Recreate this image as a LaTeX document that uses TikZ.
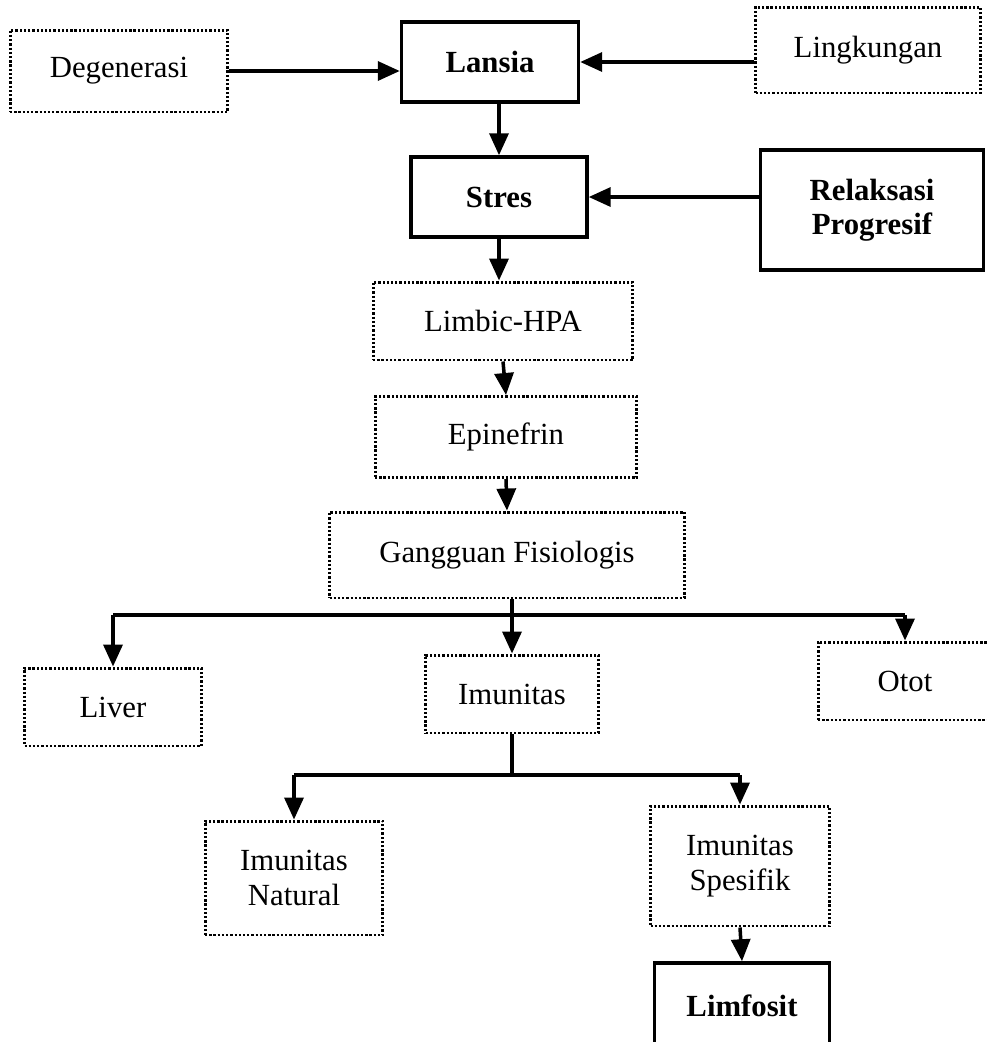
\documentclass[tikz,border=0pt]{standalone}
\usepackage{fontspec}
\setmainfont{Liberation Serif}
\usetikzlibrary{arrows.meta}

\begin{document}
\begin{tikzpicture}[x=0.02cm, y=-0.02cm, box/.style={rectangle, draw, line width=2pt, inner sep=0pt, align=center, font=\fontsize{17.5}{19.5}\selectfont\bfseries}, dotbox/.style={rectangle, draw, line width=1.7pt, dash pattern=on 1.3pt off 1.1pt, inner sep=0pt, align=center, font=\fontsize{17.5}{19.5}\selectfont}, >={Triangle[length=0.44cm,width=0.38cm]}, every path/.style={line width=2pt}]

                \useasboundingbox (0,0) rectangle (987,1042);

                \node[dotbox, minimum width=4.36cm, minimum height=1.64cm] (deg) at (119,71) {Degenerasi};
                \node[box, minimum width=3.54cm, minimum height=1.60cm] (lansia) at (490,62) {Lansia};
                \node[dotbox, minimum width=4.50cm, minimum height=1.72cm] (ling) at (868,50) {Lingkungan};
                \node[box, minimum width=3.52cm, minimum height=1.60cm] (stres) at (499,197) {Stres};
                \node[box, minimum width=4.46cm, minimum height=2.40cm] (relak) at (872,210) {Relaksasi\\Progresif};
                \node[dotbox, minimum width=5.20cm, minimum height=1.56cm] (limbic) at (503,321) {Limbic-HPA};
                \node[dotbox, minimum width=5.24cm, minimum height=1.62cm] (epi) at (506,437) {Epinefrin};
                \node[dotbox, minimum width=7.10cm, minimum height=1.72cm] (gang) at (507,555) {Gangguan Fisiologis};

                \node[dotbox, minimum width=3.54cm, minimum height=1.56cm] (liver) at (113,707) {Liver};
                \node[dotbox, minimum width=3.46cm, minimum height=1.56cm] (imun) at (512,694) {Imunitas};
                \node[dotbox, minimum width=3.48cm, minimum height=1.56cm] (otot) at (905,681) {Otot};

                \node[dotbox, minimum width=3.56cm, minimum height=2.28cm] (natural) at (294,878) {Imunitas\\Natural};
                \node[dotbox, minimum width=3.58cm, minimum height=2.40cm] (spesifik) at (740,866) {Imunitas\\Spesifik};
                \node[box, minimum width=3.50cm, minimum height=1.72cm] (limf) at (742,1006) {Limfosit};

                \coordinate (bar) at (512,615);
                \coordinate (bar2) at (512,775);


                \draw[->] (deg.east) -- (deg.east -| lansia.west);
                \draw[->] (ling.west |- lansia.east) -- (lansia.east);
                \draw[->] (stres.north |- lansia.south) -- (stres.north);
                \draw[->] (relak.west |- stres.east) -- (stres.east);
                \draw[->] (stres.south) -- (stres.south |- limbic.north);
                \draw[->] (limbic.south) -- (epi.north);
                \draw[->] (epi.south) -- (gang.north);

                \draw[->] (imun.north |- gang.south) -- (imun.north);
                \draw (liver.north |- bar) -- (otot.north |- bar);
                \draw[->] (liver.north |- bar) -- (liver.north);
                \draw[->] (otot.north |- bar) -- (otot.north);

                \draw (imun.south) -- (bar2);
                \draw (natural.north |- bar2) -- (spesifik.north |- bar2);
                \draw[->] (natural.north |- bar2) -- (natural.north);
                \draw[->] (spesifik.north |- bar2) -- (spesifik.north);
                \draw[->] (spesifik.south) -- (limf.north);


            \end{tikzpicture}
\end{document}
